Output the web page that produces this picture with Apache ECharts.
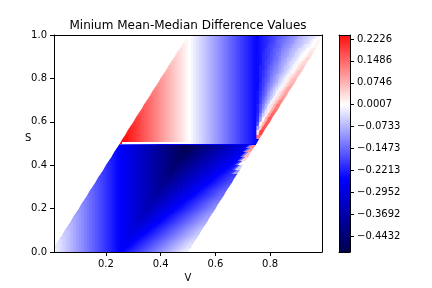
<!DOCTYPE html>
<html><head><meta charset="utf-8">
<style>html,body{margin:0;padding:0;background:#fff}#c{width:432px;height:288px}</style>
<script src="https://cdn.jsdelivr.net/npm/echarts@6/dist/echarts.min.js"></script>
</head><body><div id="c"></div>
<script>
const titleText='Minium Mean-Median Difference Values';
const xTicks=[0.2,0.4,0.6,0.8];
const yTicks=[0,0.2,0.4,0.6,0.8,1];
const barTicks=[0.2226,0.1486,0.0746,0.0007,-0.0733,-0.1473,-0.2213,-0.2952,-0.3692,-0.4432];
const barMin=-0.4967, barMax=0.236;
const cmapValues=[-.5,-.25,0,.25,.5];
const cmapColors=[[0,0,76],[0,0,255],[255,255,255],[255,0,0],[128,0,0]];
// S<0.5, left of the dark ridge: colour depends on V only
const lowerStripe=[-.015,-.025,-.035,-.045,-.055,-.065,-.075,-.085,-.095,-.105,-.115,-.125,-.135,-.145,-.155,-.165,-.175,-.185,-.195,-.205,-.215,-.225,-.235,-.245,-.255,-.265,-.275,-.285,-.295,-.305,-.315,-.325,-.335,-.345,-.355,-.365,-.375,-.385,-.395,-.405,-.415,-.425,-.435,-.445,-.455,-.465,-.475,-.485,-.495];
// S<0.5, right of the ridge, one row per S step
const lowerRight=[
[-.25,-.24,-.23,-.22,-.21,-.2,-.19,-.18,-.17,-.16,-.15,-.14,-.13,-.12,-.11,-.1,-.09,-.08,-.07,-.06,-.05,-.04,-.03,-.02],
[-.26,-.25,-.24,-.23,-.22,-.21,-.2,-.19,-.18,-.17,-.16,-.15,-.14,-.13,-.12,-.11,-.1,-.09,-.08,-.07,-.06,-.05,-.04,-.03],
[-.27,-.26,-.25,-.24,-.23,-.22,-.21,-.2,-.19,-.18,-.17,-.16,-.15,-.14,-.13,-.12,-.11,-.1,-.09,-.08,-.07,-.06,-.05,-.04],
[-.28,-.27,-.26,-.25,-.24,-.23,-.22,-.21,-.2,-.19,-.18,-.17,-.16,-.15,-.14,-.13,-.12,-.11,-.1,-.09,-.08,-.07,-.06,-.05],
[-.29,-.28,-.27,-.26,-.25,-.24,-.23,-.22,-.21,-.2,-.19,-.18,-.17,-.16,-.15,-.14,-.13,-.12,-.11,-.1,-.09,-.08,-.07,-.06],
[-.3,-.29,-.28,-.27,-.26,-.25,-.24,-.23,-.22,-.21,-.2,-.19,-.18,-.17,-.16,-.15,-.14,-.13,-.12,-.11,-.1,-.09,-.08,-.07],
[-.31,-.3,-.29,-.28,-.27,-.26,-.25,-.24,-.23,-.22,-.21,-.2,-.19,-.18,-.17,-.16,-.15,-.14,-.13,-.12,-.11,-.1,-.09,-.08],
[-.32,-.31,-.3,-.29,-.28,-.27,-.26,-.25,-.24,-.23,-.22,-.21,-.2,-.19,-.18,-.17,-.16,-.15,-.14,-.13,-.12,-.11,-.1,-.09],
[-.33,-.32,-.31,-.3,-.29,-.28,-.27,-.26,-.25,-.24,-.23,-.22,-.21,-.2,-.19,-.18,-.17,-.16,-.15,-.14,-.13,-.12,-.11,-.1],
[-.34,-.33,-.32,-.31,-.3,-.29,-.28,-.27,-.26,-.25,-.24,-.23,-.22,-.21,-.2,-.19,-.18,-.17,-.16,-.15,-.14,-.13,-.12,-.11],
[-.35,-.34,-.33,-.32,-.31,-.3,-.29,-.28,-.27,-.26,-.25,-.24,-.23,-.22,-.21,-.2,-.19,-.18,-.17,-.16,-.15,-.14,-.13,-.12],
[-.36,-.35,-.34,-.33,-.32,-.31,-.3,-.29,-.28,-.27,-.26,-.25,-.24,-.23,-.22,-.21,-.2,-.19,-.18,-.17,-.16,-.15,-.14,-.13],
[-.37,-.36,-.35,-.34,-.33,-.32,-.31,-.3,-.29,-.28,-.27,-.26,-.25,-.24,-.23,-.22,-.21,-.2,-.19,-.18,-.17,-.16,-.15,-.14],
[-.38,-.37,-.36,-.35,-.34,-.33,-.32,-.31,-.3,-.29,-.28,-.27,-.26,-.25,-.24,-.23,-.22,-.21,-.2,-.19,-.18,-.17,-.16,-.15],
[-.39,-.38,-.37,-.36,-.35,-.34,-.33,-.32,-.31,-.3,-.29,-.28,-.27,-.26,-.25,-.24,-.23,-.22,-.21,-.2,-.19,-.18,-.17,-.16],
[-.4,-.39,-.38,-.37,-.36,-.35,-.34,-.33,-.32,-.31,-.3,-.29,-.28,-.27,-.26,-.25,-.24,-.23,-.22,-.21,-.2,-.19,-.18,-.17],
[-.41,-.4,-.39,-.38,-.37,-.36,-.35,-.34,-.33,-.32,-.31,-.3,-.29,-.28,-.27,-.26,-.25,-.24,-.23,-.22,-.21,-.2,-.19,-.18],
[-.42,-.41,-.4,-.39,-.38,-.37,-.36,-.35,-.34,-.33,-.32,-.31,-.3,-.29,-.28,-.27,-.26,-.25,-.24,-.23,-.22,-.21,-.2,-.19],
[-.43,-.42,-.41,-.4,-.39,-.38,-.37,-.36,-.35,-.34,-.33,-.32,-.31,-.3,-.29,-.28,-.27,-.26,-.25,-.24,-.23,-.22,-.19,-.1],
[-.44,-.43,-.42,-.41,-.4,-.39,-.38,-.37,-.36,-.35,-.34,-.33,-.32,-.31,-.3,-.29,-.28,-.27,-.26,-.25,-.24,-.23,-.18,-.05],
[-.45,-.44,-.43,-.42,-.41,-.4,-.39,-.38,-.37,-.36,-.35,-.34,-.33,-.32,-.31,-.3,-.29,-.28,-.27,-.26,-.25,-.24,-.17,0],
[-.46,-.45,-.44,-.43,-.42,-.41,-.4,-.39,-.38,-.37,-.36,-.35,-.34,-.33,-.32,-.31,-.3,-.29,-.28,-.27,-.26,-.25,-.16,.04],
[-.47,-.46,-.45,-.44,-.43,-.42,-.41,-.4,-.39,-.38,-.37,-.36,-.35,-.34,-.33,-.32,-.31,-.3,-.29,-.28,-.27,-.26,-.15,.07],
[-.48,-.47,-.46,-.45,-.44,-.43,-.42,-.41,-.4,-.39,-.38,-.37,-.36,-.35,-.34,-.33,-.32,-.31,-.3,-.29,-.28,-.27,-.14,.1],
[-.49,-.48,-.47,-.46,-.45,-.44,-.43,-.42,-.41,-.4,-.39,-.38,-.37,-.36,-.35,-.34,-.33,-.32,-.31,-.3,-.29,-.28,-.14,.12]
];
// S>0.5, V<0.75: vertical stripes
const upperStripe=[.24,.23,.22,.21,.2,.19,.18,.17,.16,.15,.14,.13,.12,.11,.1,.09,.08,.07,.06,.05,.04,.03,.02,.01,0,-.01,-.02,-.03,-.04,-.05,-.06,-.07,-.08,-.09,-.1,-.11,-.12,-.13,-.14,-.15,-.16,-.17,-.18,-.19,-.2,-.21,-.22,-.23,-.24];
// S>0.5, V>0.75: blue to white to pink wedge, one row per S step
const wedge=[
[.14],
[.03,.18],
[-.09,.05,.17],
[-.17,0,.07,.16],
[-.2,-.09,.01,.08,.16],
[-.21,-.13,-.05,.02,.08,.15],
[-.22,-.16,-.09,-.03,.02,.08,.14],
[-.22,-.17,-.12,-.07,-.02,.03,.08,.13],
[-.23,-.19,-.14,-.1,-.06,-.01,.03,.07,.12],
[-.23,-.19,-.16,-.12,-.08,-.05,-.01,.03,.06,.1],
[-.23,-.2,-.17,-.14,-.1,-.07,-.04,-.01,.03,.06,.09],
[-.24,-.21,-.18,-.15,-.12,-.09,-.06,-.03,-.01,.02,.06,.09],
[-.24,-.21,-.19,-.16,-.13,-.11,-.08,-.06,-.03,-.01,.02,.05,.08],
[-.24,-.22,-.19,-.17,-.15,-.12,-.1,-.08,-.05,-.03,-.01,.02,.05,.07],
[-.24,-.22,-.2,-.18,-.16,-.13,-.11,-.09,-.07,-.05,-.03,-.01,.02,.04,.06],
[-.24,-.22,-.2,-.18,-.16,-.14,-.12,-.11,-.09,-.07,-.05,-.03,-.01,.01,.04,.06],
[-.24,-.22,-.21,-.19,-.17,-.15,-.13,-.12,-.1,-.08,-.06,-.05,-.03,-.01,.01,.03,.05],
[-.24,-.23,-.21,-.19,-.18,-.16,-.14,-.13,-.11,-.09,-.08,-.06,-.04,-.03,-.01,.01,.03,.04],
[-.24,-.23,-.21,-.2,-.18,-.17,-.15,-.14,-.12,-.1,-.09,-.07,-.06,-.04,-.03,-.01,0,.02,.04],
[-.24,-.23,-.21,-.2,-.19,-.17,-.16,-.14,-.13,-.11,-.1,-.09,-.07,-.06,-.04,-.03,-.01,0,.01,.03],
[-.24,-.23,-.22,-.2,-.19,-.18,-.16,-.15,-.14,-.12,-.11,-.1,-.08,-.07,-.06,-.04,-.03,-.02,0,.01,.02],
[-.24,-.23,-.22,-.21,-.19,-.18,-.17,-.16,-.15,-.13,-.12,-.11,-.1,-.08,-.07,-.06,-.05,-.03,-.02,-.01,0,.01],
[-.24,-.23,-.22,-.21,-.2,-.19,-.18,-.16,-.15,-.14,-.13,-.12,-.11,-.1,-.08,-.07,-.06,-.05,-.04,-.03,-.01,0,.01],
[-.25,-.23,-.22,-.21,-.2,-.19,-.18,-.17,-.16,-.15,-.14,-.13,-.12,-.11,-.1,-.08,-.07,-.06,-.05,-.04,-.03,-.02,-.01,0]
];
// the two thin rows along S=0.5
const seamUpper=[0,0,0,0,0,0,0,0,0,0,0,0,0,0,0,0,0,0,0,0,0,0,0,0,0,-.01,-.02,-.03,-.04,-.05,-.06,-.07,-.08,-.09,-.1,-.11,-.12,-.13,-.14,-.15,-.16,-.17,-.18,-.19,-.2,-.21,-.22,-.23,-.24];
const seamLower=[-.17,-.18,-.18,-.19,-.19,-.2,-.2,-.21,-.21,-.22,-.22,-.23,-.23,-.24,-.24,-.25,-.25,-.25,-.25,-.25,-.25,-.25,-.25,-.25,-.25,-.25,-.25,-.25,-.25,-.25,-.25,-.25,-.25,-.25,-.25,-.25,-.25,-.25,-.25,-.25,-.25,-.25,-.25,-.25,-.25,-.25,-.25,-.25,-.25,-.25];

const V0=.01,dV=.01,dS=.02,overlap=.004;
const leftEdge=s=>Math.max(.01,s/2), rightEdge=s=>Math.min(.99,.5+s/2);
const cells=[];
// each cell: bottom-left V, bottom-right V, top-left V, top-right V, S low, S high, value, seam flag
// shear is half the sideways drift of the colour contours across one row
function add(i,k,val,shearL,shearR,keepTopLeft){
  const v0=V0+i*dV,v1=v0+dV,s0=k*dS,s1=s0+dS;
  let b0=v0-shearL,t0=keepTopLeft?v0:v0+shearL,b1=v1-shearR+overlap,t1=v1+shearR+overlap;
  if(i===k){b0=leftEdge(s0);t0=leftEdge(s1);}
  if(i===k+48){b1=rightEdge(s0);t1=rightEdge(s1);}
  cells.push([b0,b1,t0,t1,s0,s1,val,0]);
}
for(let k=0;k<25;k++){
  for(let j=0;j<25;j++) add(k+j,k,lowerStripe[k+j],0,0,false);
  lowerRight[k].forEach((val,j)=>add(k+25+j,k,val,.01,.01,j===0));
}
for(let k=25;k<50;k++){
  for(let i=k;i<74;i++) add(i,k,upperStripe[i-25],0,0,false);
  if(k>25){ const row=wedge[k-26],n=row.length;
    row.forEach((val,j)=>add(74+j,k,val,.005*j/n,.005*(j+1)/n,false)); }
}
seamUpper.forEach((val,n)=>{const a=V0+(25+n)*dV,b=a+dV;cells.push([a,b,a,b,.5,.505,val,1]);});
seamLower.forEach((val,n)=>{const a=V0+(24+n)*dV,b=a+dV;cells.push([a,b,a,b,.495,.5,val,1]);});

const colorOf=v=>{
  let n=0; while(n<3&&v>cmapValues[n+1]) n++;
  const t=Math.max(0,Math.min(1,(v-cmapValues[n])/(cmapValues[n+1]-cmapValues[n])));
  const a=cmapColors[n],b=cmapColors[n+1];
  return 'rgb('+a.map((c,m)=>Math.round(c+(b[m]-c)*t)).join(',')+')';
};
const font='"DejaVu Sans"';
const barOffset=v=>(barMax-v)/(barMax-barMin);
const barStops=[barMax,0,-.25,barMin].map(v=>({offset:barOffset(v),color:colorOf(v)}));
const cellItem=(p,api)=>{
  const s0=api.value(4),s1=api.value(5),seam=api.value(7);
  const pt=(v,s)=>{const q=api.coord([v,s]);return [seam?Math.round(q[0]):q[0],Math.round(q[1])];};
  return {type:'polygon',shape:{points:[pt(api.value(0),s0),pt(api.value(1),s0),pt(api.value(3),s1),pt(api.value(2),s1)]},
    style:{fill:colorOf(api.value(6))}};
};
const barItem=(p,api)=>{
  const a=api.coord([api.value(0),api.value(1)]),b=api.coord([api.value(2),api.value(3)]);
  return {type:'rect',shape:{x:a[0],y:b[1],width:b[0]-a[0],height:a[1]-b[1]},style:{fill:new echarts.graphic.LinearGradient(0,0,0,1,barStops)}};
};
const line={show:true,onZero:false,lineStyle:{color:'#000',width:1}};
const bare={splitLine:{show:false},axisLine:line,axisTick:{show:false},axisLabel:{show:false},z:5};
const chart=echarts.init(document.getElementById('c'),null,{renderer:'canvas'});
const label={margin:7,fontFamily:font,fontSize:10,color:'#000'};
chart.setOption({
  animation:false,backgroundColor:'#fff',
  title:[{text:titleText,left:183,top:15,textAlign:'center',textStyle:{fontFamily:font,fontSize:12,fontWeight:'normal',color:'#000'}},
         {text:'S',left:20,top:128,textStyle:{fontFamily:font,fontSize:10,fontWeight:'normal',color:'#000'}}],
  grid:[
    {left:54,top:35,width:268,height:217,outerBoundsMode:'none'},
    {left:339,top:35,width:11,height:217,outerBoundsMode:'none'}
  ],
  xAxis:[
    {type:'value',gridIndex:0,min:.01,max:.99,z:5,name:'V',nameLocation:'middle',nameGap:20,
     nameTextStyle:{fontFamily:font,fontSize:10,color:'#000'},splitLine:{show:false},axisLine:line,
     axisTick:{length:4,lineStyle:{color:'#000'},customValues:xTicks},
     axisLabel:Object.assign({},label,{customValues:xTicks,margin:7,formatter:v=>v.toFixed(1)})},
    Object.assign({type:'value',gridIndex:0,min:.01,max:.99,position:'top'},bare),
    Object.assign({type:'value',gridIndex:1,min:0,max:1,position:'bottom'},bare),
    Object.assign({type:'value',gridIndex:1,min:0,max:1,position:'top'},bare)
  ],
  yAxis:[
    {type:'value',gridIndex:0,min:0,max:1,z:5,splitLine:{show:false},axisLine:line,
     axisTick:{length:4,lineStyle:{color:'#000'},customValues:yTicks},
     axisLabel:Object.assign({customValues:yTicks,formatter:v=>v.toFixed(1)},label)},
    Object.assign({type:'value',gridIndex:0,min:0,max:1,position:'right'},bare),
    {type:'value',gridIndex:1,min:barMin,max:barMax,position:'right',z:5,splitLine:{show:false},axisLine:line,
     axisTick:{length:4,lineStyle:{color:'#000'},customValues:barTicks},
     axisLabel:Object.assign({customValues:barTicks,formatter:v=>v.toFixed(4).replace('-','\u2212')},label)},
    Object.assign({type:'value',gridIndex:1,min:barMin,max:barMax,position:'left'},bare)
  ],
  series:[
    {type:'custom',xAxisIndex:0,yAxisIndex:0,silent:true,clip:false,progressive:0,encode:{x:[0,1,2,3],y:[4,5]},data:cells,renderItem:cellItem},
    {type:'custom',xAxisIndex:2,yAxisIndex:2,silent:true,clip:false,encode:{x:[0,2],y:[1,3]},data:[[0,barMin,1,barMax]],renderItem:barItem}
  ]
});
</script></body></html>
